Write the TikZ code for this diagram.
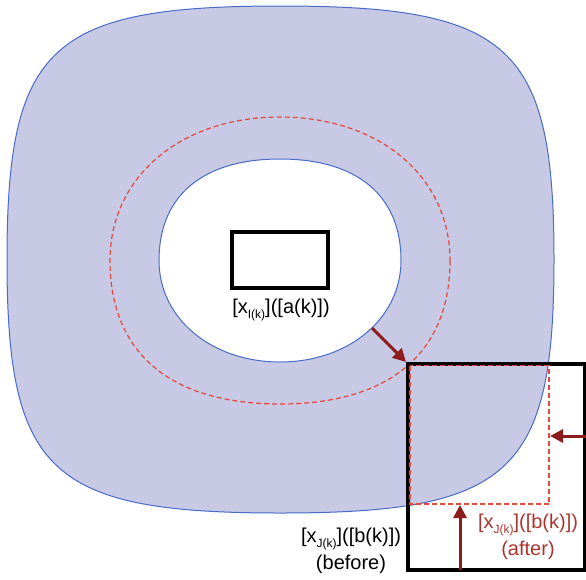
\documentclass[tikz,border=0pt]{standalone}
\usepackage{fontspec}
\setmainfont{Liberation Sans}
\usetikzlibrary{arrows.meta}

\definecolor{ringfill}{RGB}{200,201,228}
\definecolor{ringline}{RGB}{72,106,200}
\definecolor{dashred}{RGB}{228,72,60}
\definecolor{arrowred}{RGB}{140,28,28}
\definecolor{labelred}{RGB}{172,52,46}

% lowered, smaller index set after the variable name
\newcommand{\idx}[1]{\raisebox{-0.5ex}{\fontsize{12}{12}\selectfont #1}}

% squircle: centre (#1,#2), semi-axes #3 and #4 (y grows downward);
% #5 and #6 set how square the upper and the lower half are
% (0.552 gives an ellipse, larger values give squarer corners)
\newcommand{\squircle}[6]{%
  ({#1+#3},{#2})
  .. controls ({#1+#3},{#2+#6*#4}) and ({#1+#6*#3},{#2+#4}) .. ({#1},{#2+#4})
  .. controls ({#1-#6*#3},{#2+#4}) and ({#1-#3},{#2+#6*#4}) .. ({#1-#3},{#2})
  .. controls ({#1-#3},{#2-#5*#4}) and ({#1-#5*#3},{#2-#4}) .. ({#1},{#2-#4})
  .. controls ({#1+#5*#3},{#2-#4}) and ({#1+#3},{#2-#5*#4}) .. ({#1+#3},{#2})
  -- cycle}

\tikzset{
  ring/.style={draw=ringline, line width=1pt},
  levelset/.style={draw=dashred, line width=1.2pt, dash pattern=on 5pt off 3pt},
  boxline/.style={draw=black, line width=3.5pt},
  push/.style={draw=arrowred, line width=3pt,
    -{Triangle[length=13pt,width=13pt]}},
  lbl/.style={font=\fontsize{20}{27}\selectfont, align=center, inner sep=0pt},
}

\begin{document}
\begin{tikzpicture}[x=1pt,y=-1pt]
\useasboundingbox (0,0) rectangle (586,579);

% outer region
\path[ring, fill=ringfill] \squircle{280.5}{259.5}{273.5}{253.5}{0.842}{0.842};
% hole around the source box
\path[ring, fill=white] \squircle{280}{260.5}{121}{101.5}{0.639}{0.569};
% intermediate level set
\path[levelset] \squircle{280}{260.5}{170}{143.5}{0.584}{0.645};

% source box and its label
\node[boxline, minimum width=96pt, minimum height=56pt, inner sep=0pt]
  (src) at (280,260) {};
\node[lbl] (srclbl) at (281,310) {[x\idx{I(k)}]([a(k)])};

% target box before the update
\node[boxline, minimum width=177pt, minimum height=206pt, inner sep=0pt]
  (tgt) at (496.5,467) {};
% target box after the update
\path[levelset] (410,365.5) rectangle (549,504);

\node[lbl] (before) at (351,551) {[x\idx{J(k)}]([b(k)])\\(before)};
\node[lbl, text=labelred] (after) at (528,537) {[x\idx{J(k)}]([b(k)])\\(after)};

% arrows
\coordinate (d0) at (372,328);
\coordinate (d1) at (406,362);
\coordinate (r0) at (590,436);
\coordinate (r1) at (550,436);
\coordinate (u0) at (460,570);
\coordinate (u1) at (460,505);
\draw[push] (d0) -- (d1);
\draw[push] (r0) -- (r1);
\draw[push] (u0) -- (u1);
\end{tikzpicture}
\end{document}
